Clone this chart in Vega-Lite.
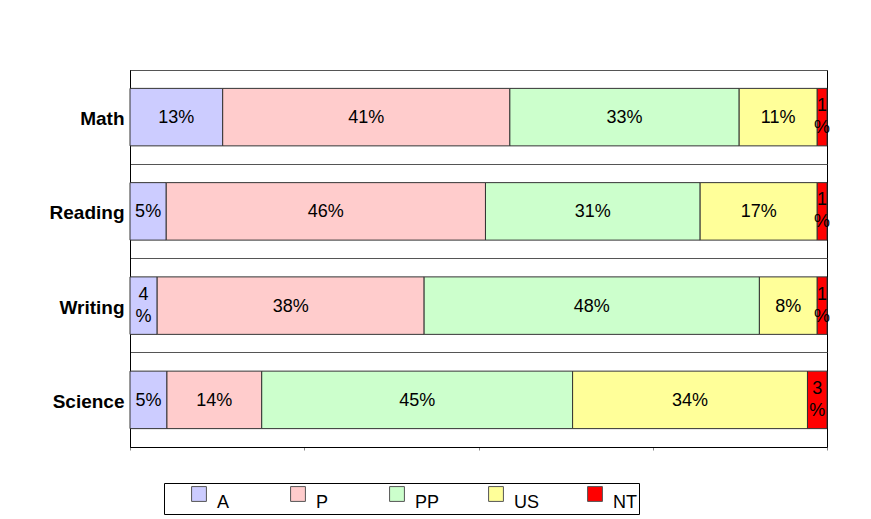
{
  "$schema": "https://vega.github.io/schema/vega-lite/v6.json",
  "width": 697,
  "height": 377,
  "autosize": {"type": "none"},
  "padding": {"left": 130, "top": 70, "right": 44, "bottom": 72},
  "background": "white",
  "config": {
    "view": {"stroke": "black", "strokeWidth": 1},
    "font": "Liberation Sans"
  },
  "data": {
    "values": [
      {"subject": "Math", "cat": "A", "k": 1, "value": 13.3, "label": "13%"},
      {"subject": "Math", "cat": "P", "k": 2, "value": 41.2, "label": "41%"},
      {"subject": "Math", "cat": "PP", "k": 3, "value": 32.9, "label": "33%"},
      {"subject": "Math", "cat": "US", "k": 4, "value": 11.2, "label": "11%"},
      {"subject": "Math", "cat": "NT", "k": 5, "value": 1.4, "label": "1\n%"},
      {"subject": "Reading", "cat": "A", "k": 1, "value": 5.2, "label": "5%"},
      {"subject": "Reading", "cat": "P", "k": 2, "value": 45.8, "label": "46%"},
      {"subject": "Reading", "cat": "PP", "k": 3, "value": 30.8, "label": "31%"},
      {"subject": "Reading", "cat": "US", "k": 4, "value": 16.8, "label": "17%"},
      {"subject": "Reading", "cat": "NT", "k": 5, "value": 1.4, "label": "1\n%"},
      {"subject": "Writing", "cat": "A", "k": 1, "value": 3.9, "label": "4\n%"},
      {"subject": "Writing", "cat": "P", "k": 2, "value": 38.3, "label": "38%"},
      {"subject": "Writing", "cat": "PP", "k": 3, "value": 48.1, "label": "48%"},
      {"subject": "Writing", "cat": "US", "k": 4, "value": 8.3, "label": "8%"},
      {"subject": "Writing", "cat": "NT", "k": 5, "value": 1.4, "label": "1\n%"},
      {"subject": "Science", "cat": "A", "k": 1, "value": 5.3, "label": "5%"},
      {"subject": "Science", "cat": "P", "k": 2, "value": 13.6, "label": "14%"},
      {"subject": "Science", "cat": "PP", "k": 3, "value": 44.6, "label": "45%"},
      {"subject": "Science", "cat": "US", "k": 4, "value": 33.7, "label": "34%"},
      {"subject": "Science", "cat": "NT", "k": 5, "value": 2.8, "label": "3\n%"}
    ]
  },
  "encoding": {
    "y": {
      "field": "subject",
      "type": "nominal",
      "sort": ["Math", "Reading", "Writing", "Science"],
      "scale": {"paddingInner": 0, "paddingOuter": 0},
      "axis": {
        "title": null,
        "ticks": false,
        "domainColor": "black",
        "labelFont": "Liberation Sans",
        "labelFontWeight": "bold",
        "labelFontSize": 19,
        "labelColor": "black",
        "labelPadding": 6,
        "labelOffset": 2,
        "grid": true,
        "bandPosition": 0,
        "gridColor": "#555555",
        "gridWidth": 1
      }
    }
  },
  "layer": [
    {
      "mark": {"type": "bar", "height": {"band": 0.61}, "stroke": "#333333", "strokeWidth": 1},
      "encoding": {
        "x": {
          "field": "value",
          "type": "quantitative",
          "stack": "normalize",
          "scale": {"domain": [0, 1], "nice": false},
          "axis": {
            "title": null,
            "labels": false,
            "grid": false,
            "values": [0, 0.25, 0.5, 0.75, 1],
            "tickSize": 3,
            "tickColor": "#888888",
            "domainColor": "black"
          }
        },
        "order": {"field": "k", "type": "quantitative"},
        "color": {
          "field": "cat",
          "type": "nominal",
          "sort": ["A", "P", "PP", "US", "NT"],
          "scale": {
            "domain": ["A", "P", "PP", "US", "NT"],
            "range": ["#CCCCFF", "#FFCCCC", "#CCFFCC", "#FFFF99", "#FF0000"]
          },
          "legend": {
            "orient": "none",
            "legendX": 34,
            "legendY": 413,
            "direction": "horizontal",
            "columns": 5,
            "gridAlign": "all",
            "columnPadding": 45,
            "title": " ",
            "titleOrient": "left",
            "titleFontSize": 11,
            "titlePadding": 24,
            "padding": 2,
            "strokeColor": "black",
            "fillColor": "white",
            "symbolType": "square",
            "symbolSize": 220,
            "symbolStrokeColor": "#555555",
            "symbolStrokeWidth": 1,
            "symbolOpacity": 1,
            "labelFont": "Liberation Sans",
            "labelFontSize": 18,
            "labelColor": "black",
            "labelOffset": 9,
            "labelBaseline": "top"
          }
        }
      }
    },
    {
      "mark": {
        "type": "text",
        "fontSize": 18,
        "font": "Liberation Sans",
        "color": "black",
        "align": "center",
        "baseline": "middle",
        "lineBreak": "\n",
        "lineHeight": 22,
        "dy": {"expr": "indexof(datum.label, '\\n') >= 0 ? -11 : 1"}
      },
      "encoding": {
        "x": {"field": "value", "type": "quantitative", "stack": "normalize", "bandPosition": 0.5},
        "detail": {"field": "cat"},
        "order": {"field": "k", "type": "quantitative"},
        "text": {"field": "label"}
      }
    }
  ]
}
